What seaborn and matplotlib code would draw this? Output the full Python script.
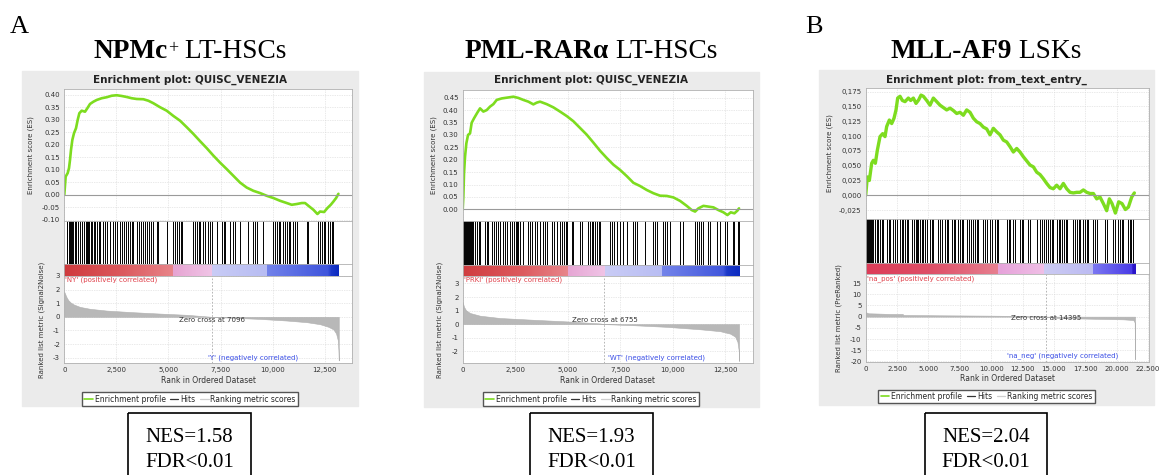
import numpy as np
import pandas as pd
import seaborn as sns
import matplotlib
matplotlib.use('Agg')
import matplotlib.pyplot as plt
from matplotlib.colors import LinearSegmentedColormap
from matplotlib.lines import Line2D
from matplotlib.patches import Rectangle

# ---------------------------------------------------------------- data
# panel 1: NPMc+ LT-HSCs
n1 = 13170
es1_x = [0, 66, 162, 226, 274, 322, 386, 466, 562, 642, 722, 834, 994, 1106, 1234, 1394, 1554,
         1794, 2034, 2274, 2514, 2754, 2994, 3234, 3474, 3794, 4034, 4274, 4594, 4914, 5234,
         5554, 5874, 6194, 6514, 6834, 7154, 7474, 7794, 8114, 8434, 8754, 9074, 9394, 9714,
         10034, 10354, 10674, 10914, 11154, 11394, 11554, 11714, 11954, 12146, 12274, 12466,
         12626, 12786, 12914, 13042, 13154]
es1_y = [0.0, 0.073, 0.087, 0.107, 0.14, 0.18, 0.22, 0.247, 0.267, 0.30, 0.327, 0.337, 0.333,
         0.347, 0.364, 0.373, 0.38, 0.387, 0.391, 0.397, 0.399, 0.396, 0.392, 0.387, 0.384,
         0.383, 0.377, 0.367, 0.351, 0.337, 0.316, 0.297, 0.271, 0.244, 0.215, 0.187, 0.157,
         0.129, 0.103, 0.076, 0.049, 0.029, 0.016, 0.007, -0.004, -0.013, -0.024, -0.033,
         -0.04, -0.037, -0.033, -0.033, -0.044, -0.06, -0.077, -0.067, -0.069, -0.053, -0.04,
         -0.027, -0.013, 0.004]
hits1 = [130, 225, 275, 320, 370, 420, 515, 560, 660, 755, 850, 945, 1040, 1090, 1140, 1185,
         1280, 1330, 1425, 1475, 1570, 1665, 1715, 1860, 1955, 2050, 2190, 2340, 2435, 2530,
         2670, 2770, 2865, 2960, 3055, 3150, 3245, 3290, 3490, 3585, 3680, 3780, 3875, 3970,
         4065, 4160, 4260, 4450, 4500, 4930, 5220, 5315, 5410, 5510, 5600, 5650, 6180, 6270,
         6370, 6465, 6510, 6660, 6750, 6900, 7000, 7090, 7330, 7570, 7665, 7710, 7950, 8100,
         8195, 8430, 8815, 9055, 9150, 9250, 9540, 10020, 10115, 10210, 10300, 10350, 10500,
         10590, 10690, 10785, 10835, 10980, 11075, 11170, 11650, 11700, 12190, 12290, 12385,
         12480, 12530, 12660, 12760, 12855, 12900]
rank1_x = [0, 66, 114, 194, 306, 466, 754, 1234, 2034, 3314, 4594, 5874, 7096, 8114, 9394,
           10674, 11634, 12274, 12674, 12914, 13042, 13122, 13154, 13170]
rank1_y = [1.83, 1.59, 1.42, 1.22, 1.05, 0.90, 0.73, 0.59, 0.46, 0.34, 0.24, 0.15, 0.0, -0.07,
           -0.15, -0.27, -0.39, -0.54, -0.73, -0.92, -1.22, -1.7, -2.43, -3.2]
cbar1_pos = [0, 0.22, 0.397, 0.397, 0.537, 0.537, 0.738, 0.738, 0.96, 0.975, 1.0]
cbar1_col = ['#cf3a3d', '#dc5b5f', '#e8858a', '#e6a4d2', '#f0c4e6', '#c9ccf6', '#b7bcf2',
             '#7282ea', '#3f55dc', '#1a37c8', '#0b2ac0']

# panel 2: PML-RARa LT-HSCs
n2 = 13170
es2_x = [0, 31, 63, 111, 174, 254, 349, 428, 540, 699, 826, 985, 1143, 1302, 1461, 1620, 1858,
         2097, 2415, 2653, 2891, 3130, 3368, 3527, 3686, 4004, 4321, 4639, 4957, 5275, 5593,
         5910, 6228, 6546, 6864, 7182, 7499, 7817, 8135, 8453, 8771, 9088, 9406, 9724, 10042,
         10360, 10677, 10916, 11075, 11234, 11472, 11710, 11949, 12187, 12426, 12616, 12775,
         12950, 13093, 13170]
es2_y = [0.0, 0.051, 0.145, 0.212, 0.266, 0.30, 0.306, 0.349, 0.367, 0.39, 0.407, 0.394, 0.40,
         0.414, 0.424, 0.441, 0.447, 0.45, 0.454, 0.449, 0.441, 0.434, 0.423, 0.43, 0.434,
         0.424, 0.411, 0.394, 0.376, 0.355, 0.328, 0.301, 0.269, 0.236, 0.207, 0.18, 0.159,
         0.134, 0.107, 0.094, 0.078, 0.065, 0.055, 0.054, 0.048, 0.034, 0.014, -0.003, -0.009,
         0.004, 0.014, 0.011, 0.008, -0.003, -0.012, -0.023, -0.012, -0.016, -0.005, 0.004]
hits2 = [15, 60, 110, 155, 205, 250, 300, 350, 395, 445, 490, 585, 680, 775, 825, 1065, 1160,
         1205, 1395, 1490, 1585, 1680, 1780, 1920, 2015, 2110, 2255, 2350, 2445, 2540, 2590,
         2635, 2730, 2875, 3115, 3210, 3305, 3445, 3540, 3685, 3825, 3920, 4015, 4255, 4350,
         4490, 4640, 4735, 4830, 4925, 4975, 5210, 5260, 5590, 5685, 5970, 6065, 6160, 6210,
         6305, 6400, 6495, 6545, 7020, 7115, 7210, 7355, 7495, 7640, 7840, 8125, 8220, 8315,
         8695, 9080, 9175, 9270, 9560, 9655, 9750, 9895, 10370, 10515, 11085, 11180, 11275,
         11370, 11470, 11705, 11800, 12140, 12285, 12520, 12615, 12865, 12915, 13105, 13150]
rank2_x = [0, 63, 158, 349, 826, 1779, 3368, 4957, 6546, 6755, 8135, 9724, 11313, 12266,
           12743, 12981, 13093, 13156, 13170]
rank2_y = [1.62, 1.27, 1.02, 0.82, 0.62, 0.45, 0.32, 0.2, 0.05, 0.0, -0.08, -0.2, -0.38, -0.52,
           -0.7, -0.92, -1.3, -1.97, -2.72]
cbar2_pos = [0, 0.22, 0.38, 0.38, 0.513, 0.513, 0.718, 0.718, 0.94, 0.955, 1.0]
cbar2_col = ['#d03c3f', '#dd5c60', '#e8868b', '#e6a6d4', '#f0c4e6', '#caccf6', '#b8bdf3',
             '#7484ea', '#4157dc', '#1b38c8', '#0c2bc0']

# panel 3: MLL-AF9 LSKs
n3 = 21470
es3_x = [0, 131, 290, 477, 610, 769, 928, 1141, 1353, 1539, 1672, 1885, 2071, 2257, 2416, 2549,
         2735, 2921, 3134, 3399, 3585, 3798, 4010, 4223, 4409, 4595, 4861, 5127, 5392, 5658,
         5924, 6189, 6455, 6721, 6987, 7252, 7518, 7783, 8049, 8315, 8581, 8846, 9112, 9377,
         9643, 9909, 10175, 10440, 10706, 10972, 11238, 11503, 11769, 12035, 12300, 12566,
         12832, 13097, 13363, 13629, 13895, 14160, 14426, 14692, 14957, 15223, 15489, 15754,
         16020, 16286, 16552, 16817, 17083, 17349, 17614, 17880, 18146, 18411, 18677, 18943,
         19209, 19421, 19634, 19900, 20165, 20431, 20697, 20936, 21202, 21414]
es3_y = [0.0, 0.031, 0.025, 0.054, 0.059, 0.054, 0.076, 0.099, 0.104, 0.099, 0.116, 0.127,
         0.121, 0.13, 0.144, 0.164, 0.167, 0.16, 0.158, 0.164, 0.16, 0.164, 0.155, 0.161, 0.169,
         0.167, 0.16, 0.152, 0.164, 0.158, 0.152, 0.148, 0.144, 0.147, 0.143, 0.138, 0.14,
         0.135, 0.144, 0.14, 0.13, 0.124, 0.121, 0.115, 0.112, 0.102, 0.113, 0.107, 0.102,
         0.093, 0.09, 0.082, 0.073, 0.079, 0.073, 0.065, 0.058, 0.051, 0.048, 0.039, 0.035,
         0.028, 0.02, 0.013, 0.011, 0.017, 0.011, 0.02, 0.011, 0.005, 0.004, 0.005, 0.005,
         0.009, 0.005, 0.003, 0.003, -0.006, -0.003, -0.014, -0.026, -0.006, -0.014, -0.03,
         -0.011, -0.014, -0.024, -0.02, -0.003, 0.004]
hits3 = [25, 105, 185, 265, 345, 420, 500, 580, 740, 900, 980, 1140, 1300, 1375, 1695, 1855,
         1935, 2175, 2335, 2495, 2735, 2895, 2975, 3130, 3290, 3370, 3690, 3850, 4010, 4090,
         4170, 4330, 4490, 4570, 4725, 4885, 5125, 5285, 5365, 5765, 5925, 6080, 6320, 6480,
         6560, 6880, 7040, 7120, 7360, 7520, 7675, 7755, 8075, 8235, 8395, 8555, 8710, 8870,
         8950, 9350, 9510, 9670, 9910, 10070, 10310, 10470, 10550, 11260, 11420, 11500, 11740,
         11900, 12300, 12460, 12540, 12940, 13100, 13660, 13890, 14050, 14210, 14370, 14530,
         14690, 14850, 14930, 15250, 15410, 15490, 15650, 15810, 15970, 16050, 16520, 16680,
         16840, 17000, 17080, 17320, 17480, 17640, 17720, 18120, 18280, 18440, 19070, 19230,
         19710, 19870, 20110, 20270, 20430, 20510, 20910, 21070, 21150, 21310]
rank3_x = [0, 211, 875, 1938, 2947, 3000, 5924, 9909, 12566, 14395, 15223, 17880, 20537, 21334,
           21440, 21466]
rank3_y = [2.0, 1.5, 1.4, 1.2, 1.2, 0.76, 0.6, 0.45, 0.3, 0.0, -0.6, -0.9, -1.2, -1.5, -2.6,
           -19.0]
cbar3_pos = [0, 0.25, 0.49, 0.49, 0.66, 0.66, 0.84, 0.84, 0.985, 0.99, 1.0]
cbar3_col = ['#dc3c58', '#de5068', '#e78090', '#e6a2da', '#f0bfe6', '#cccbf3', '#bcbbf2',
             '#7c78f2', '#4a3ce6', '#2a14c8', '#2a14c8']

titles = ['Enrichment plot: QUISC_VENEZIA', 'Enrichment plot: QUISC_VENEZIA',
          'Enrichment plot: from_text_entry_']
pos_labels = ["'NY' (positively correlated)", "'PRKI' (positively correlated)",
              "'na_pos' (positively correlated)"]
neg_labels = ["'Y' (negatively correlated)", "'WT' (negatively correlated)",
              "'na_neg' (negatively correlated)"]
zero_cross = [7096, 6755, 14395]
metric_names = ['Signal2Noise', 'Signal2Noise', 'PreRanked']
nes_values = ['1.58', '1.93', '2.04']
fdr_values = ['0.01', '0.01', '0.01']

# ---------------------------------------------------------------- layout (pixels)
W, H = 1165, 475
layout = [
    dict(bg=(22, 71, 358, 406), ax=(64.3, 352.3), es=(89, 221), cb=(264.3, 276), rk=(276, 363.3),
         xmax=13820, esl=(-0.105, 0.424), rkl=(-3.41, 3.0), esx=-0.105, rkx=-0.067,
         leg=(190, 399), box=(128, 251), neg_x=6900, lw=1.9),
    dict(bg=(424, 72, 758.7, 406.7), ax=(462.7, 753), es=(90, 221), cb=(265, 276), rk=(276, 363.3),
         xmax=13835, esl=(-0.047, 0.481), rkl=(-2.89, 3.55), esx=-0.088, rkx=-0.069,
         leg=(591, 399), box=(530, 652.7), neg_x=6925, lw=1.9),
    dict(bg=(819, 70, 1154, 405), ax=(865.7, 1149), es=(88, 219), cb=(263.3, 274.3), rk=(274.3, 361.7),
         xmax=22580, esl=(-0.040, 0.181), rkl=(-20.1, 18.9), esx=-0.114, rkx=-0.085,
         leg=(986.5, 396.3), box=(925, 1047.3), neg_x=11240, lw=2.4),
]
es_ticks = [np.arange(-0.10, 0.401, 0.05), np.arange(0.0, 0.451, 0.05), np.arange(-0.025, 0.176, 0.025)]
rk_ticks = [np.arange(-3, 4), np.arange(-2, 4), np.arange(-20, 16, 5)]
x_ticks = [np.arange(0, 12501, 2500), np.arange(0, 12501, 2500), np.arange(0, 22501, 2500)]

panels = [
    (es1_x, es1_y, hits1, rank1_x, rank1_y, cbar1_pos, cbar1_col, n1),
    (es2_x, es2_y, hits2, rank2_x, rank2_y, cbar2_pos, cbar2_col, n2),
    (es3_x, es3_y, hits3, rank3_x, rank3_y, cbar3_pos, cbar3_col, n3),
]

sns.set_theme(style='white')
plt.rcParams['font.family'] = ['DejaVu Sans']

GREEN = '#7ddc1f'
GRID = '#d4d4d4'
SPINE = '#b0b0b0'
TXT = '#333333'

fig = plt.figure(figsize=(W / 100, H / 100), dpi=100)
bg = fig.add_axes([0, 0, 1, 1])
bg.set_xlim(0, W)
bg.set_ylim(H, 0)
bg.axis('off')


def fbox(x0, y0, x1, y1):
    return [x0 / W, 1 - y1 / H, (x1 - x0) / W, (y1 - y0) / H]


def style_ax(ax):
    for s in ax.spines.values():
        s.set_color(SPINE)
        s.set_linewidth(0.6)
    ax.tick_params(length=2, width=0.5, color='#888888', labelsize=5, labelcolor=TXT, pad=1)
    ax.set_facecolor('white')


for i, (lay, dat) in enumerate(zip(layout, panels)):
    es_x, es_y, hits, rk_x, rk_y, cb_pos, cb_col, n = dat
    x0, x1 = lay['ax']
    bx0, by0, bx1, by1 = lay['bg']
    bg.add_patch(Rectangle((bx0, by0), bx1 - bx0, by1 - by0, color='#ebebeb', zorder=0))
    bg.text((bx0 + bx1) / 2, 80, titles[i], ha='center', va='center', fontsize=7.5,
            fontweight='bold', color='#222222')

    comma = i == 2
    xt = x_ticks[i]

    # enrichment score
    ax = fig.add_axes(fbox(x0, lay['es'][0], x1, lay['es'][1]))
    style_ax(ax)
    sns.lineplot(x=es_x, y=es_y, ax=ax, color=GREEN, lw=lay['lw'], sort=False)
    ax.axhline(0, color='#9a9a9a', lw=0.8)
    ax.set_xlim(0, lay['xmax'])
    ax.set_ylim(*lay['esl'])
    ax.set_xticks(xt)
    ax.set_xticklabels([])
    ax.tick_params(axis='x', length=0)
    yt = es_ticks[i]
    ax.set_yticks(yt)
    if comma:
        ax.set_yticklabels([f'{v:.3f}'.replace('.', ',') for v in yt])
    else:
        ax.set_yticklabels([f'{v:.2f}' for v in yt])
    ax.grid(True, color=GRID, lw=0.5, ls=(0, (1, 1.5)))
    ax.set_ylabel('Enrichment score (ES)', fontsize=5, color=TXT)
    ax.yaxis.set_label_coords(lay['esx'], 0.5)

    # hits
    ah = fig.add_axes(fbox(x0, lay['es'][1], x1, lay['cb'][0]))
    style_ax(ah)
    ah.vlines(hits, 0, 1, color='black', lw=0.7)
    ah.set_xlim(0, lay['xmax'])
    ah.set_ylim(0, 1)
    ah.set_xticks([])
    ah.set_yticks([])

    # ranking colour bar
    ac = fig.add_axes(fbox(x0, lay['cb'][0], x1, lay['cb'][1]))
    style_ax(ac)
    cmap = LinearSegmentedColormap.from_list(f'cb{i}', list(zip(cb_pos, cb_col)), N=512)
    ac.imshow(np.linspace(0, 1, 512)[None, :], aspect='auto', cmap=cmap,
              extent=(0, n, 0, 1), interpolation='nearest')
    ac.set_xlim(0, lay['xmax'])
    ac.set_ylim(0, 1)
    ac.set_xticks([])
    ac.set_yticks([])

    # ranked list metric
    ar = fig.add_axes(fbox(x0, lay['rk'][0], x1, lay['rk'][1]))
    style_ax(ar)
    ar.fill_between(rk_x, rk_y, 0, color='#b8b8b8', lw=0.4, edgecolor='#b0b0b0')
    ar.axvline(zero_cross[i], color='#aaaaaa', lw=0.6, ls=(0, (2, 2)))
    ar.set_xlim(0, lay['xmax'])
    ar.set_ylim(*lay['rkl'])
    ar.set_xticks(xt)
    if comma:
        ar.set_xticklabels([f'{v:,}'.replace(',', '.') for v in xt])
    else:
        ar.set_xticklabels([f'{v:,}' for v in xt])
    ar.set_yticks(rk_ticks[i])
    ar.set_yticklabels([str(v) for v in rk_ticks[i]])
    ar.grid(True, color=GRID, lw=0.5, ls=(0, (1, 1.5)))
    ar.set_xlabel('Rank in Ordered Dataset', fontsize=5.5, color=TXT, labelpad=1.5)
    ar.set_ylabel(f'Ranked list metric ({metric_names[i]})', fontsize=5, color=TXT)
    ar.yaxis.set_label_coords(lay['rkx'], 0.5)
    ar.text(0.004, 0.954, pos_labels[i], transform=ar.transAxes, fontsize=5, color='#e0404a',
            va='center', ha='left')
    ar.text(zero_cross[i], 0.495, f'Zero cross at {zero_cross[i]}', fontsize=5, color='#333333',
            ha='center', va='center', transform=ar.get_xaxis_transform())
    ar.text(lay['neg_x'], 0.064, neg_labels[i], fontsize=5, color='#3a4ee6', ha='left',
            va='center', transform=ar.get_xaxis_transform())

    # legend
    handles = [Line2D([], [], color=GREEN, lw=1.2), Line2D([], [], color='#333333', lw=0.9),
               Line2D([], [], color='#cfcfcf', lw=0.9)]
    fig.legend(handles, ['Enrichment profile', 'Hits', 'Ranking metric scores'],
               loc='center', bbox_to_anchor=(lay['leg'][0] / W, 1 - lay['leg'][1] / H),
               ncol=3, fontsize=5.5, handlelength=1.1, handletextpad=0.25, columnspacing=0.6,
               frameon=True, fancybox=False, edgecolor='#555555', facecolor='white',
               borderpad=0.3, framealpha=1)

    # NES / FDR box
    cx0, cx1 = lay['box']
    bg.add_patch(Rectangle((cx0, 412.7), cx1 - cx0, 80, fill=False, edgecolor='black', lw=1.2,
                           clip_on=False))
    bg.text((cx0 + cx1) / 2, 442, f'NES={nes_values[i]}', ha='center', va='baseline',
            fontsize=15, family='Liberation Serif', color='black')
    bg.text((cx0 + cx1) / 2, 467, f'FDR<{fdr_values[i]}', ha='center', va='baseline',
            fontsize=15, family='Liberation Serif', color='black')

# panel letters
bg.text(10, 33, 'A', fontsize=19, family='Liberation Serif', va='baseline', ha='left',
        color='black')
bg.text(805, 33, 'B', fontsize=19, family='Liberation Serif', va='baseline', ha='left',
        color='black')

# mixed bold / regular headings
heads = [(190, 'NPMc', '+', ' LT-HSCs'), (591, 'PML-RARα', '', ' LT-HSCs'),
         (986, 'MLL-AF9', '', ' LSKs')]
serif = 'Liberation Serif'
groups = []
for cx, bold, sup, reg in heads:
    t1 = bg.text(cx, 58, bold, fontsize=19.7, fontweight='bold', family=serif, va='baseline',
                 ha='left', color='black')
    last = t1
    if sup:
        t2 = bg.annotate(sup, xy=(1, 1), xycoords=t1, xytext=(0.5, -1), textcoords='offset points',
                         va='top', ha='left', fontsize=13, family=serif, color='black')
        last = t2
    t3 = bg.annotate(reg, xy=(1, 0), xycoords=(last, t1), va='bottom', ha='left', fontsize=19.7,
                     family=serif, color='black')
    groups.append((cx, t1, t3))

fig.canvas.draw()
r = fig.canvas.get_renderer()
for cx, t1, t3 in groups:
    e1 = t1.get_window_extent(r)
    e3 = t3.get_window_extent(r)
    width = e3.x1 - e1.x0
    t1.set_x(cx - width / 2)

fig.savefig('out.png', dpi=100)
